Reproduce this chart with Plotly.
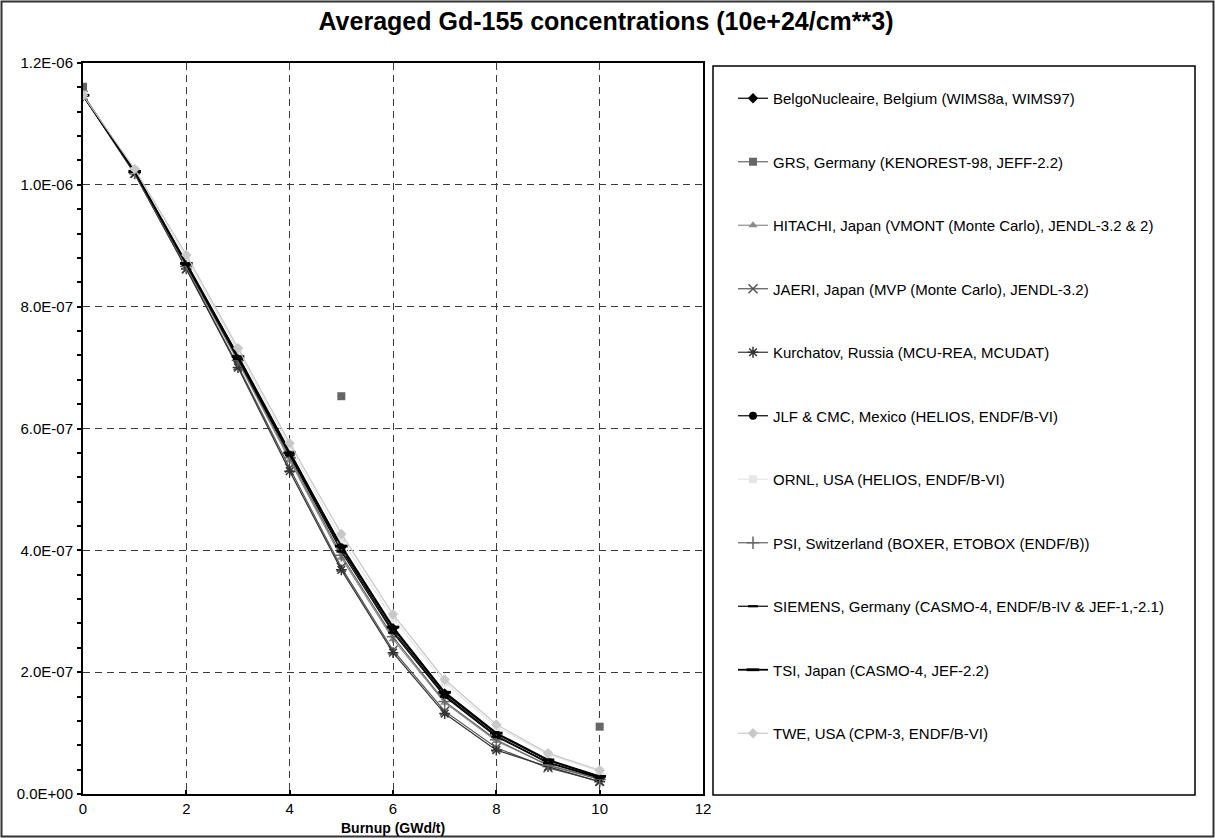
import plotly.graph_objects as go

# ---------------- data ----------------
burnup = [0, 1, 2, 3, 4, 5, 6, 7, 8, 9, 10]

belgo = [1.147e-6, 1.022e-6, 8.72e-7, 7.20e-7, 5.63e-7, 4.05e-7, 2.72e-7, 1.65e-7, 9.9e-8, 5.5e-8, 2.8e-8]
grs = [1.161e-6, None, None, None, None, 6.53e-7, None, None, None, None, 1.105e-7]
hitachi = [1.147e-6, 1.021e-6, 8.66e-7, 7.10e-7, 5.48e-7, 3.88e-7, 2.54e-7, 1.50e-7, 8.7e-8, 4.8e-8, 2.5e-8]
jaeri = [1.147e-6, 1.019e-6, 8.62e-7, 7.03e-7, 5.35e-7, 3.72e-7, 2.36e-7, 1.36e-7, 7.6e-8, 4.3e-8, 2.1e-8]
kurchatov = [1.147e-6, 1.018e-6, 8.62e-7, 7.00e-7, 5.30e-7, 3.68e-7, 2.32e-7, 1.32e-7, 7.2e-8, 4.5e-8, 2.0e-8]
jlf = [1.147e-6, 1.022e-6, 8.70e-7, 7.16e-7, 5.58e-7, 4.02e-7, 2.68e-7, 1.62e-7, 9.6e-8, 5.2e-8, 2.7e-8]
ornl = [1.147e-6, 1.024e-6, 8.80e-7, 7.27e-7, 5.70e-7, 4.18e-7, 2.88e-7, 1.83e-7, 1.10e-7, 6.5e-8, 3.7e-8]
psi = [1.147e-6, 1.020e-6, 8.66e-7, 7.12e-7, 5.52e-7, 3.92e-7, 2.58e-7, 1.52e-7, 8.9e-8, 4.7e-8, 2.4e-8]
siemens = [1.147e-6, 1.021e-6, 8.69e-7, 7.14e-7, 5.56e-7, 3.98e-7, 2.65e-7, 1.60e-7, 9.4e-8, 5.1e-8, 2.6e-8]
tsi = [1.147e-6, 1.022e-6, 8.71e-7, 7.18e-7, 5.60e-7, 4.07e-7, 2.74e-7, 1.67e-7, 1.00e-7, 5.6e-8, 2.9e-8]
twe = [1.147e-6, 1.026e-6, 8.85e-7, 7.32e-7, 5.76e-7, 4.27e-7, 2.95e-7, 1.88e-7, 1.14e-7, 6.7e-8, 3.9e-8]

series_names = [
    "BelgoNucleaire, Belgium (WIMS8a, WIMS97)",
    "GRS, Germany (KENOREST-98, JEFF-2.2)",
    "HITACHI, Japan (VMONT (Monte Carlo), JENDL-3.2 & 2)",
    "JAERI, Japan (MVP (Monte Carlo), JENDL-3.2)",
    "Kurchatov, Russia (MCU-REA, MCUDAT)",
    "JLF & CMC, Mexico (HELIOS, ENDF/B-VI)",
    "ORNL, USA (HELIOS, ENDF/B-VI)",
    "PSI, Switzerland (BOXER, ETOBOX (ENDF/B))",
    "SIEMENS, Germany (CASMO-4, ENDF/B-IV & JEF-1,-2.1)",
    "TSI, Japan (CASMO-4, JEF-2.2)",
    "TWE, USA (CPM-3, ENDF/B-VI)",
]
series_values = [belgo, grs, hitachi, jaeri, kurchatov, jlf, ornl, psi, siemens, tsi, twe]

x_tick_vals = [0, 2, 4, 6, 8, 10, 12]
y_tick_vals = [0, 2e-7, 4e-7, 6e-7, 8e-7, 1.0e-6, 1.2e-6]
y_tick_labels = ["0.0E+00", "2.0E-07", "4.0E-07", "6.0E-07", "8.0E-07", "1.0E-06", "1.2E-06"]

title_text = "Averaged Gd-155 concentrations (10e+24/cm**3)"
x_title = "Burnup (GWd/t)"

# ---------------- styles ----------------
styles = [
    dict(color="#000000", symbol="diamond", size=8, lw=1.2, open=False),
    dict(color="#666666", symbol="square", size=8, lw=1.2, open=False),
    dict(color="#8c8c8c", symbol="triangle-up", size=8, lw=1.2, open=False),
    dict(color="#555555", symbol="x-thin-open", size=9, lw=1.2, open=True),
    dict(color="#333333", symbol="asterisk-open", size=9, lw=1.2, open=True),
    dict(color="#000000", symbol="circle", size=8, lw=1.2, open=False),
    dict(color="#e6e6e6", symbol="square", size=8, lw=1.2, open=False),
    dict(color="#666666", symbol="cross-thin-open", size=9, lw=1.2, open=True),
    dict(color="#000000", symbol="line-ew-open", size=7, lw=1.2, open=True),
    dict(color="#000000", symbol="line-ew-open", size=9, lw=1.8, open=True),
    dict(color="#c8c8c8", symbol="diamond", size=8, lw=1.2, open=False),
]

W, H = 1215, 838
PLOT_L, PLOT_R, PLOT_T, PLOT_B = 83, 703, 63, 794
LEG_L, LEG_R, LEG_T, LEG_B = 713, 1195, 66, 795


def px(x):
    return x / W


def py(y):
    return 1 - y / H


FONT = "Liberation Sans, Arial, sans-serif"

fig = go.Figure()
for i, (name, vals, st) in enumerate(zip(series_names, series_values, styles)):
    marker = dict(symbol=st["symbol"], size=st["size"], color=st["color"])
    if st["open"]:
        marker["line"] = dict(color=st["color"], width=1.5 if st["symbol"] != "line-ew-open" else st["lw"] + 1)
    else:
        marker["line"] = dict(width=0)
    fig.add_trace(go.Scatter(
        x=burnup, y=vals, name=name, mode="lines+markers",
        connectgaps=False,
        line=dict(color=st["color"], width=st["lw"]),
        marker=marker,
        legendgroup="g%d" % i,
    ))

axis_font = dict(family=FONT, size=15, color="black")

fig.update_layout(
    width=W, height=H,
    margin=dict(l=0, r=0, t=0, b=0, pad=0),
    paper_bgcolor="white", plot_bgcolor="white",
    font=dict(family=FONT, color="black"),
    title=dict(text="<b>%s</b>" % title_text, x=px(606), xanchor="center",
               y=py(21), yanchor="middle", yref="paper", xref="paper",
               font=dict(family=FONT, size=25, color="black")),
    xaxis=dict(
        domain=[px(PLOT_L), px(PLOT_R)], range=[0, 12], tickmode="array", tickvals=x_tick_vals,
        showline=True, linecolor="black", linewidth=2, mirror=True,
        ticks="inside", ticklen=4, tickwidth=1.5, tickcolor="black",
        showgrid=True, gridcolor="#3a3a3a", gridwidth=1, griddash="7px,5px",
        zeroline=False, tickfont=axis_font, ticklabelstandoff=0,
        automargin=False,
    ),
    yaxis=dict(
        domain=[py(PLOT_B), py(PLOT_T)], range=[0, 1.2e-6], tickmode="array",
        tickvals=y_tick_vals, ticktext=y_tick_labels,
        showline=True, linecolor="black", linewidth=2, mirror=True,
        ticks="outside", ticklen=4, tickwidth=1.5, tickcolor="black",
        minor=dict(tickmode="linear", tick0=0, dtick=4e-8, ticks="outside", ticklen=4,
                   tickwidth=1.5, tickcolor="black", showgrid=False),
        showgrid=True, gridcolor="#3a3a3a", gridwidth=1, griddash="7px,5px",
        zeroline=False, tickfont=axis_font, ticklabelstandoff=1,
        automargin=False,
    ),
    xaxis2=dict(
        overlaying="x", anchor="y", side="bottom", range=[0, 12], tickmode="array",
        tickvals=x_tick_vals, ticks="outside", ticklen=4, tickwidth=1.5, tickcolor="black",
        showticklabels=False, showgrid=False, showline=False, zeroline=False,
    ),
    yaxis2=dict(
        overlaying="y", anchor="x", side="left", range=[0, 1.2e-6], tickmode="array",
        tickvals=y_tick_vals, ticks="inside", ticklen=4, tickwidth=1.5, tickcolor="black",
        minor=dict(tickmode="linear", tick0=0, dtick=4e-8, ticks="inside", ticklen=4,
                   tickwidth=1.5, tickcolor="black", showgrid=False),
        showticklabels=False, showgrid=False, showline=False, zeroline=False,
    ),
    legend=dict(
        x=px(733), xanchor="left", y=py(82), yanchor="top",
        bgcolor="rgba(0,0,0,0)", borderwidth=0,
        font=dict(family=FONT, size=15, color="black"),
        tracegroupgap=41, itemwidth=30, traceorder="grouped",
    ),
    annotations=[
        dict(text="<b>%s</b>" % x_title, xref="paper", yref="paper",
             x=px((PLOT_L + PLOT_R) / 2), y=py(828), xanchor="center", yanchor="middle",
             showarrow=False, font=dict(family=FONT, size=14, color="black")),
    ],
    shapes=[
        dict(type="rect", xref="paper", yref="paper",
             x0=px(LEG_L), x1=px(LEG_R), y0=py(LEG_B), y1=py(LEG_T),
             line=dict(color="black", width=1.5), fillcolor="rgba(0,0,0,0)", layer="below"),
        dict(type="rect", xref="paper", yref="paper",
             x0=px(1.5), x1=px(1213.5), y0=py(836.5), y1=py(1.5),
             line=dict(color="#333333", width=2), fillcolor="rgba(0,0,0,0)"),
    ],
)

fig.write_html("out.html")
